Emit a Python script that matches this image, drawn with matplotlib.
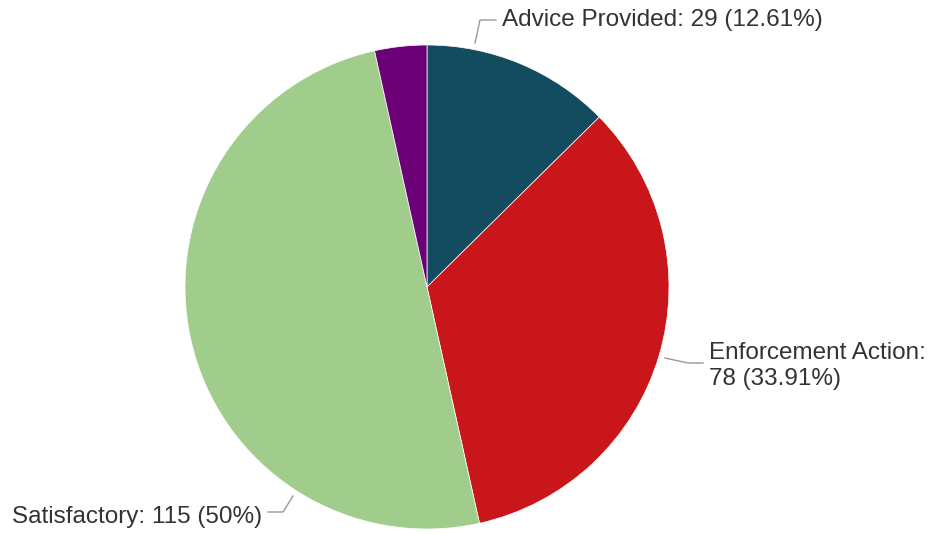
import matplotlib
matplotlib.use("Agg")
import matplotlib.pyplot as plt

# inspection outcomes
categories = ["Advice Provided", "Enforcement Action", "Satisfactory", "Other"]
counts = [29, 78, 115, 8]
colors = ["#134b5f", "#c8161a", "#a0cd8c", "#6b0077"]

W, H = 931, 535
fig = plt.figure(figsize=(W / 100, H / 100), dpi=100)
ax = fig.add_axes([0, 0, 1, 1])

cx, cy, r = 427, H - 287, 242
ax.pie(counts, colors=colors, startangle=90, counterclock=False,
       center=(cx, cy), radius=r, frame=True,
       wedgeprops=dict(edgecolor="white", linewidth=0.5))
ax.set_xlim(0, W)
ax.set_ylim(0, H)
ax.set_aspect("equal")
ax.axis("off")

total = sum(counts)


def label(i, two_lines=False):
    pct = counts[i] / total * 100
    pct_txt = f"{pct:.2f}".rstrip("0").rstrip(".")
    sep = "\n" if two_lines else " "
    return f"{categories[i]}:{sep}{counts[i]} ({pct_txt}%)"


font = dict(fontsize=17.5, color="#333333", family=["Liberation Sans", "DejaVu Sans"])
line = dict(color="#999999", linewidth=1)


# connectors (pixel coords, y measured from top)
def conn(pts):
    xs = [p[0] for p in pts]
    ys = [H - p[1] for p in pts]
    ax.plot(xs, ys, **line)


conn([(475, 43), (480, 20), (496, 20)])
ax.text(502, H - 20, label(0), ha="left", va="center", **font)

conn([(665, 358), (688, 363), (703, 363)])
ax.text(709, H - 366, label(1, True), ha="left", va="center",
        linespacing=1.25, **font)

conn([(293, 496), (283, 512), (268, 512)])
ax.text(262, H - 517, label(2), ha="right", va="center", **font)

fig.savefig("out.png", dpi=100)
